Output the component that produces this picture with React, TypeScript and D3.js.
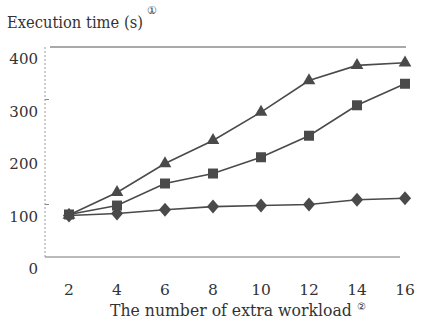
import React, { useLayoutEffect, useRef, useState } from "react";
import * as d3 from "d3";

const workload = [2, 4, 6, 8, 10, 12, 14, 16];
const diamondSeries = [79, 83, 90, 96, 98, 100, 109, 112];
const squareSeries = [81, 98, 140, 159, 190, 231, 289, 330];
const triangleSeries = [80, 123, 178, 222, 276, 336, 365, 370];
const yTicks = [0, 100, 200, 300, 400];
const yTitle = "Execution time (s)";
const xTitle = "The number of extra workload";

const W = 425;
const H = 323;
const x = d3.scaleLinear().domain([2, 16]).range([69, 405]);
const y = d3.scaleLinear().domain([0, 400]).range([257, 47]);

const ink = "#4a4a4a";
const font = "DejaVu Serif";

function FitText(props: { x: number; y: number; width: number; size: number; children: string }) {
  const ref = useRef<SVGTextElement>(null);
  const [sx, setSx] = useState(1);
  useLayoutEffect(() => {
    if (ref.current) {
      const w = ref.current.getComputedTextLength();
      if (w > 0) setSx(props.width / w);
    }
  }, [props.width, props.children]);
  return (
    <g transform={`translate(${props.x},${props.y}) scale(${sx},1)`}>
      <text ref={ref} x={0} y={0} fontSize={props.size} fill="#333">
        {props.children}
      </text>
    </g>
  );
}

export default function App() {
  const line = d3
    .line<number>()
    .x((_, i) => x(workload[i]))
    .y((d) => y(d));

  const sq = d3.symbol().type(d3.symbolSquare).size(100)()!;
  const tri = d3.symbol().type(d3.symbolTriangle).size(70)()!;
  const dia = d3.symbol().type(d3.symbolDiamond).size(70)()!;

  const series = [
    { data: diamondSeries, path: dia, sx: 1.35, sy: 0.9 },
    { data: squareSeries, path: sq, sx: 1, sy: 1 },
    { data: triangleSeries, path: tri, sx: 1, sy: 1 },
  ];

  return (
    <svg
      width={W}
      height={H}
      style={{ position: "absolute", left: 0, top: 0, background: "#fff", fontFamily: font }}
    >
      {/* frame */}
      <line x1={50} x2={406} y1={y(400)} y2={y(400)} stroke="#555" strokeWidth={1.2} />
      <line x1={45} x2={400} y1={y(0)} y2={y(0)} stroke="#777" strokeWidth={1.2} />
      <line
        x1={45}
        x2={45}
        y1={y(400)}
        y2={y(0)}
        stroke="#999"
        strokeWidth={1}
        strokeDasharray="2 2"
      />
      {[100, 300].map((t) => (
        <line key={t} x1={45} x2={49} y1={y(t)} y2={y(t)} stroke="#888" />
      ))}

      {/* y tick labels */}
      {yTicks.map((t) => (
        <text key={t} x={38} y={y(t) + 17} textAnchor="end" fontSize={15} fill="#333">
          {t}
        </text>
      ))}

      {/* x tick labels */}
      {workload.map((t) => (
        <text key={t} x={x(t)} y={295} textAnchor="middle" fontSize={15.5} fill="#333">
          {t}
        </text>
      ))}

      {/* series */}
      {series.map((s, si) => (
        <g key={si}>
          <path d={line(s.data)!} fill="none" stroke={ink} strokeWidth={1.6} />
          {s.data.map((v, i) => (
            <path
              key={i}
              d={s.path}
              transform={`translate(${x(workload[i])},${y(v)}) scale(${s.sx},${s.sy})`}
              fill={ink}
            />
          ))}
        </g>
      ))}

      {/* titles */}
      <FitText x={7} y={28} width={136} size={16}>
        {yTitle}
      </FitText>
      <text x={147} y={14} fontSize={11} fill="#333">
        ①
      </text>
      <FitText x={110} y={316} width={242} size={17}>
        {xTitle}
      </FitText>
      <text x={357} y={309.5} fontSize={10} fill="#333">
        ②
      </text>
    </svg>
  );
}
